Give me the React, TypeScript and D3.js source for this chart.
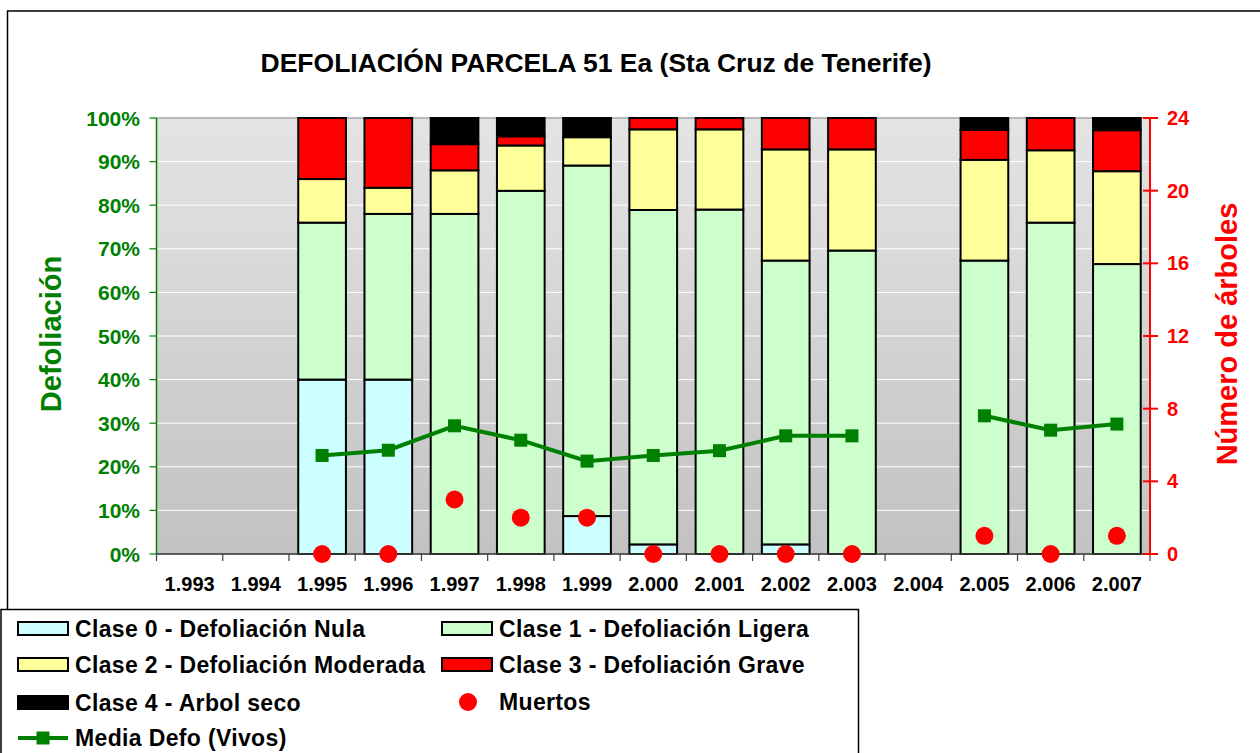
import React from "react";
import * as d3 from "d3";

const years = ["1.993", "1.994", "1.995", "1.996", "1.997", "1.998", "1.999", "2.000", "2.001", "2.002", "2.003", "2.004", "2.005", "2.006", "2.007"];

// % of trees per defoliation class (null = no data that year)
const clase0 = [null, null, 40, 40, 0, 0, 8.7, 2.2, 0, 2.2, 0, null, 0, 0, 0];
const clase1 = [null, null, 36, 38, 78, 83.3, 80.4, 76.7, 79, 65.1, 69.6, null, 67.3, 76, 66.5];
const clase2 = [null, null, 10, 6, 10, 10.4, 6.5, 18.5, 18.4, 25.5, 23.2, null, 23.1, 16.6, 21.3];
const clase3 = [null, null, 14, 16, 6, 2.1, 0, 2.6, 2.6, 7.2, 7.2, null, 6.9, 7.4, 9.4];
const clase4 = [null, null, 0, 0, 6, 4.2, 4.4, 0, 0, 0, 0, null, 2.7, 0, 2.8];

const mediaDefo = [null, null, 22.6, 23.8, 29.4, 26.1, 21.3, 22.6, 23.7, 27.1, 27.1, null, 31.7, 28.4, 29.8];
const muertos = [null, null, 0, 0, 3, 2, 2, 0, 0, 0, 0, null, 1, 0, 1];

const leftTicks = [0, 10, 20, 30, 40, 50, 60, 70, 80, 90, 100];
const rightTicks = [0, 4, 8, 12, 16, 20, 24];

const series = [
  { key: "c0", label: "Clase 0 - Defoliación Nula", values: clase0, color: "#CCFFFF" },
  { key: "c1", label: "Clase 1 - Defoliación Ligera", values: clase1, color: "#CCFFCC" },
  { key: "c2", label: "Clase 2 - Defoliación Moderada", values: clase2, color: "#FFFF99" },
  { key: "c3", label: "Clase 3 - Defoliación Grave", values: clase3, color: "#FF0000" },
  { key: "c4", label: "Clase 4 - Arbol seco", values: clase4, color: "#000000" },
];

const FONT = "'Liberation Sans', Arial, sans-serif";
const GREEN = "#008000";
const RED = "#FF0000";

export default function App() {
  const left = 156.5, right = 1150, top = 118, bottom = 554;

  const x = d3.scaleBand<string>().domain(years).range([left, right]).paddingInner(0.28).paddingOuter(0.14);
  const y = d3.scaleLinear().domain([0, 100]).range([bottom, top]);
  const yR = d3.scaleLinear().domain([0, 24]).range([bottom, top]);

  const table = years.map((yr, i) => {
    const row: any = { year: yr };
    series.forEach((s) => (row[s.key] = s.values[i] ?? 0));
    return row;
  });
  const stacked = d3.stack().keys(series.map((s) => s.key))(table);

  const line = d3
    .line<number | null>()
    .defined((d) => d != null)
    .x((_, i) => x(years[i])! + x.bandwidth() / 2)
    .y((d) => y(d as number));

  const step = x.step();
  const boundaries = d3.range(years.length + 1).map((i) => left + i * step);

  const legendItems = [
    { s: series[0], lx: 18, ly: 629 },
    { s: series[1], lx: 442, ly: 629 },
    { s: series[2], lx: 18, ly: 665 },
    { s: series[3], lx: 442, ly: 665 },
    { s: series[4], lx: 18, ly: 703 },
  ];
  const legendText = { fontSize: 23, fontWeight: "bold" as const, letterSpacing: 0.35 };

  return (
    <svg width={1260} height={753} style={{ position: "absolute", left: 0, top: 0, fontFamily: FONT }}>
      <defs>
        <linearGradient id="plotbg" x1="0" y1="0" x2="0" y2="1">
          <stop offset="0" stopColor="#e4e4e4" />
          <stop offset="1" stopColor="#c2c2c2" />
        </linearGradient>
      </defs>
      <rect x={0} y={0} width={1260} height={753} fill="#fff" />
      <rect x={7.5} y={11} width={1270} height={760} fill="none" stroke="#000" strokeWidth={1.5} />

      <text x={596} y={72} textAnchor="middle" fontSize={26.5} fontWeight="bold">
        DEFOLIACIÓN PARCELA 51 Ea (Sta Cruz de Tenerife)
      </text>

      {/* plot area */}
      <rect x={left} y={top} width={right - left} height={bottom - top} fill="url(#plotbg)" stroke="#808080" strokeWidth={1} />
      {leftTicks.slice(1, -1).map((t) => (
        <line key={t} x1={left} x2={right} y1={y(t)} y2={y(t)} stroke="#fff" strokeWidth={1} />
      ))}

      {/* stacked bars */}
      {stacked.map((layer, li) => (
        <g key={layer.key} fill={series[li].color}>
          {layer.map((d, i) =>
            d[1] - d[0] > 0 ? (
              <rect
                key={i}
                x={x(years[i])}
                y={y(d[1])}
                width={x.bandwidth()}
                height={y(d[0]) - y(d[1])}
                stroke="#000"
                strokeWidth={2}
              />
            ) : null
          )}
        </g>
      ))}

      {/* left axis */}
      <line x1={left} x2={left} y1={top} y2={bottom} stroke={GREEN} strokeWidth={1.5} />
      {leftTicks.map((t) => (
        <g key={t}>
          <line x1={left - 7} x2={left} y1={y(t)} y2={y(t)} stroke={GREEN} strokeWidth={1.2} />
          <text x={140} y={y(t) + 7.5} textAnchor="end" fontSize={21} fontWeight="bold" fill={GREEN}>
            {t}%
          </text>
        </g>
      ))}
      <text transform={`translate(61,334) rotate(-90)`} textAnchor="middle" fontSize={29} fontWeight="bold" fill={GREEN}>
        Defoliación
      </text>

      {/* bottom axis */}
      <line x1={left} x2={right} y1={bottom} y2={bottom} stroke="#404040" strokeWidth={1.5} />
      {boundaries.map((b, i) => (
        <line key={i} x1={b} x2={b} y1={bottom} y2={bottom + 7} stroke="#404040" strokeWidth={1.2} />
      ))}
      {years.map((yr) => (
        <text key={yr} x={x(yr)! + x.bandwidth() / 2} y={591} textAnchor="middle" fontSize={20} fontWeight="bold">
          {yr}
        </text>
      ))}

      {/* right axis */}
      <line x1={right} x2={right} y1={top} y2={bottom} stroke={RED} strokeWidth={2} />
      {rightTicks.map((t) => (
        <g key={t}>
          <line x1={right - 7} x2={right + 8} y1={yR(t)} y2={yR(t)} stroke={RED} strokeWidth={2} />
          <text x={1167} y={yR(t) + 7} fontSize={20} fontWeight="bold" fill={RED}>
            {t}
          </text>
        </g>
      ))}
      <text transform={`translate(1237,334) rotate(-90)`} textAnchor="middle" fontSize={29} fontWeight="bold" fill={RED}>
        Número de árboles
      </text>

      {/* media line */}
      <path d={line(mediaDefo) ?? ""} fill="none" stroke={GREEN} strokeWidth={4} />
      {mediaDefo.map((v, i) =>
        v != null ? (
          <rect key={i} x={x(years[i])! + x.bandwidth() / 2 - 6.5} y={y(v) - 6.5} width={13} height={13} fill={GREEN} />
        ) : null
      )}

      {/* muertos */}
      {muertos.map((v, i) =>
        v != null ? (
          <circle key={i} cx={x(years[i])! + x.bandwidth() / 2} cy={yR(v)} r={9} fill={RED} />
        ) : null
      )}

      {/* legend */}
      <rect x={1} y={609.5} width={857.5} height={160} fill="#fff" stroke="#000" strokeWidth={1.5} />
      {legendItems.map(({ s, lx, ly }) => (
        <g key={s.key}>
          <rect x={lx} y={ly - 7} width={50} height={13} fill={s.color} stroke="#000" strokeWidth={2} />
          <text x={lx + 57} y={ly + 8} {...legendText}>
            {s.label}
          </text>
        </g>
      ))}
      <circle cx={468} cy={702} r={9} fill={RED} />
      <text x={499} y={710} {...legendText}>
        Muertos
      </text>
      <line x1={18} x2={68} y1={738} y2={738} stroke={GREEN} strokeWidth={4} />
      <rect x={36.5} y={731.5} width={13} height={13} fill={GREEN} />
      <text x={75} y={746} {...legendText}>
        Media Defo (Vivos)
      </text>
    </svg>
  );
}
